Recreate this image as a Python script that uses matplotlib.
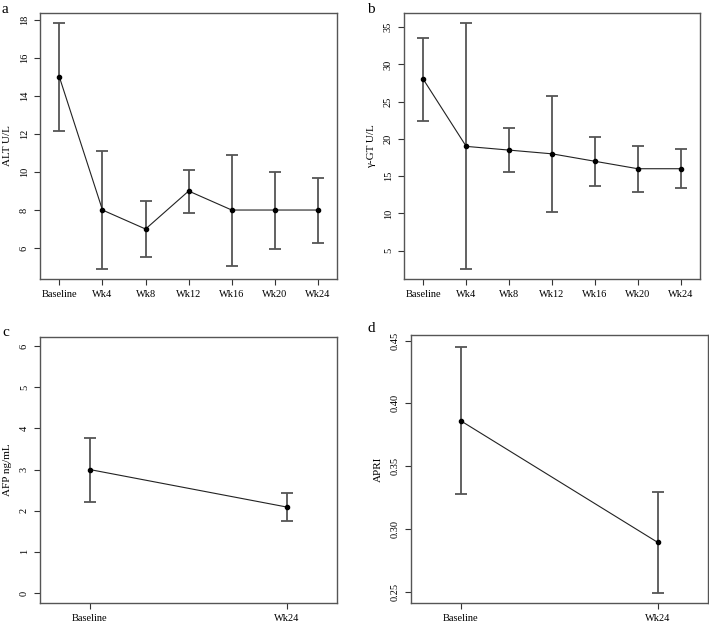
import numpy as np
from matplotlib import pyplot as plt

weeks = ["Baseline", "Wk4", "Wk8", "Wk12", "Wk16", "Wk20", "Wk24"]

alt_mid = [15, 8, 7, 9, 8, 8, 8]
alt_lo = [12.17, 4.88, 5.51, 7.83, 5.05, 5.96, 6.26]
alt_hi = [17.83, 11.1, 8.47, 10.12, 10.91, 10.0, 9.7]

ggt_mid = [28, 19, 18.5, 18, 17, 16, 16]
ggt_lo = [22.4, 2.5, 15.6, 10.2, 13.7, 12.9, 13.4]
ggt_hi = [33.6, 35.5, 21.4, 25.8, 20.3, 19.1, 18.65]

two_weeks = ["Baseline", "Wk24"]

afp_mid = [3.0, 2.09]
afp_lo = [2.22, 1.75]
afp_hi = [3.77, 2.43]

apri_mid = [0.386, 0.2893]
apri_lo = [0.3275, 0.2487]
apri_hi = [0.4447, 0.3297]

plt.rcParams["font.family"] = ["Liberation Serif", "DejaVu Serif"]


def draw_panel(ax, labels, mid, lo, hi, ylabel, yticks, ylim, xlim):
    x = np.arange(1, len(labels) + 1)
    mid = np.array(mid)
    lo = np.array(lo)
    hi = np.array(hi)
    ax.errorbar(x, mid, yerr=[mid - lo, hi - mid], fmt="none",
                ecolor="#555555", elinewidth=1.3, capsize=4.2, capthick=1.3)
    ax.plot(x, mid, color="#222222", lw=0.8)
    ax.plot(x, mid, "o", color="black", ms=3)
    ax.set_xlim(*xlim)
    ax.set_ylim(*ylim)
    ax.set_xticks(x)
    ax.set_xticklabels(labels, fontsize=7.5)
    ax.set_yticks(yticks)
    ax.set_yticklabels([f"{t:g}" if isinstance(t, int) else f"{t:.2f}" for t in yticks],
                       rotation=90, va="center", fontsize=7.5)
    ax.set_ylabel(ylabel, fontsize=8, labelpad=6)
    ax.tick_params(direction="out", length=4, width=0.8, color="#333333", pad=4)
    for s in ax.spines.values():
        s.set_color("#555555")
        s.set_linewidth(1.0)


fig = plt.figure(figsize=(7.09, 6.22), dpi=100)

ax_a = fig.add_axes([40 / 709, 1 - 279 / 622, 297.3 / 709, 266 / 622])
ax_b = fig.add_axes([404 / 709, 1 - 279 / 622, 296 / 709, 266 / 622])
ax_c = fig.add_axes([40 / 709, 1 - 603.3 / 622, 296.7 / 709, 266.6 / 622])
ax_d = fig.add_axes([411 / 709, 1 - 603.3 / 622, 296.5 / 709, 268 / 622])

draw_panel(ax_a, weeks, alt_mid, alt_lo, alt_hi, "ALT U/L",
           [6, 8, 10, 12, 14, 16, 18], (4.37, 18.37), (0.55, 7.45))
draw_panel(ax_b, weeks, ggt_mid, ggt_lo, ggt_hi, "\u03b3-GT U/L",
           [5, 10, 15, 20, 25, 30, 35], (1.2, 36.9), (0.55, 7.45))
draw_panel(ax_c, two_weeks, afp_mid, afp_lo, afp_hi, "AFP ng/mL",
           [0, 1, 2, 3, 4, 5, 6], (-0.25, 6.23), (0.746, 2.254))
draw_panel(ax_d, two_weeks, apri_mid, apri_lo, apri_hi, "APRI",
           [0.25, 0.30, 0.35, 0.40, 0.45], (0.2407, 0.4542), (0.746, 2.254))

for lab, x, y in [("a", 2, 3), ("b", 367, 3), ("c", 2, 326), ("d", 367, 322)]:
    fig.text(x / 709, 1 - y / 622, lab, fontsize=11, va="top", ha="left")

fig.savefig("out.png", dpi=100)
